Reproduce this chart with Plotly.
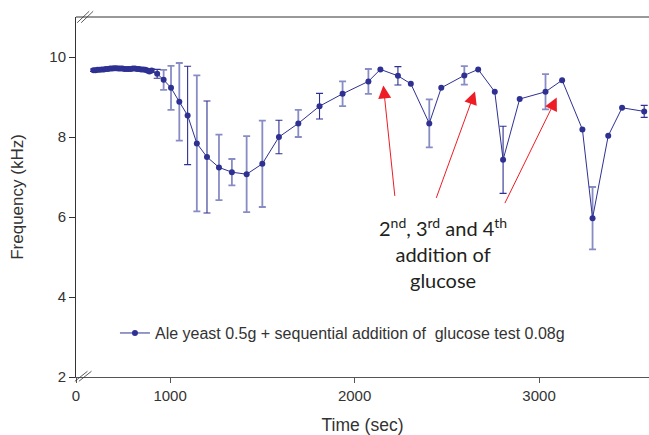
import plotly.graph_objects as go

# dense early readings (sec, kHz)
t_dense = [585, 596, 607, 618, 630, 641, 652, 663, 675, 686, 697, 708, 720, 731,
           742, 753, 765, 776, 787, 798, 810, 821, 832, 843, 855, 866, 877, 888]
f_dense = [9.67, 9.67, 9.68, 9.68, 9.69, 9.69, 9.70, 9.70, 9.71, 9.71, 9.72, 9.72, 9.71, 9.71,
           9.71, 9.70, 9.70, 9.70, 9.70, 9.71, 9.71, 9.70, 9.70, 9.69, 9.69, 9.68, 9.66, 9.64]
e_dense = [0.03, 0.03, 0.03, 0.03, 0.03, 0.03, 0.03, 0.03, 0.03, 0.03, 0.03, 0.03, 0.03, 0.03,
           0.03, 0.03, 0.03, 0.03, 0.03, 0.03, 0.03, 0.03, 0.03, 0.03, 0.03, 0.03, 0.03, 0.03]

# later readings
t_main = [900, 930, 965, 1005, 1050, 1095, 1145, 1200, 1265, 1335, 1415, 1500, 1590, 1695,
          1810, 1935, 2075, 2140, 2235, 2305, 2405, 2470, 2595, 2670, 2760, 2805, 2895,
          3035, 3125, 3235, 3290, 3375, 3450, 3570]
f_main = [9.66, 9.58, 9.43, 9.23, 8.88, 8.54, 7.84, 7.50, 7.24, 7.12, 7.07, 7.33, 8.00, 8.34,
          8.77, 9.08, 9.39, 9.69, 9.53, 9.33, 8.34, 9.23, 9.54, 9.69, 9.13, 7.43, 8.95,
          9.13, 9.42, 8.19, 5.97, 8.03, 8.73, 8.64]
e_main = [0.04, 0.11, 0.25, 0.55, 0.97, 1.23, 1.70, 1.40, 0.82, 0.33, 0.95, 1.08, 0.42, 0.34,
          0.32, 0.31, 0.31, None, 0.23, None, 0.60, None, 0.23, None, None, 0.84, None,
          0.44, None, None, 0.78, None, None, 0.15]
# which error bars are drawn in the darker shade
dark_bar = [1, 1, 0, 0, 0, 1, 0, 1, 0, 0, 0, 0, 1, 0,
            1, 0, 0, 0, 1, 0, 0, 0, 0, 0, 0, 1, 0,
            0, 0, 0, 0, 0, 0, 1]

x_ticks = [490, 1000, 2000, 3000]
x_ticktext = ["0", "1000", "2000", "3000"]
y_ticks = [2, 4, 6, 8, 10]

arrows = [  # (tail t, tail f, head t, head f)
    (2219, 6.49, 2156, 9.29),
    (2440, 6.44, 2653, 9.14),
    (2811, 6.31, 3096, 8.99),
]

LINE = "#2e3192"
DARK = "#2e3192"
LIGHT = "rgba(90,96,175,0.72)"

t_all = t_dense + t_main
f_all = f_dense + f_main
e_all = e_dense + e_main
d_all = [1] * len(t_dense) + dark_bar

fig = go.Figure()

for shade, col, th in [(0, LIGHT, 1.8), (1, DARK, 1.1)]:
    xs = [t for t, e, d in zip(t_all, e_all, d_all) if e is not None and d == shade]
    ys = [f for f, e, d in zip(f_all, e_all, d_all) if e is not None and d == shade]
    es = [e for e, d in zip(e_all, d_all) if e is not None and d == shade]
    fig.add_trace(go.Scatter(
        x=xs, y=ys, mode="markers", marker=dict(size=1, color=col, opacity=0),
        error_y=dict(type="data", array=es, visible=True, color=col, thickness=th, width=3.5),
        showlegend=False, hoverinfo="skip"))

fig.add_trace(go.Scatter(
    x=t_all, y=f_all, mode="lines+markers",
    line=dict(color=LINE, width=1),
    marker=dict(size=6, color=LINE),
    name="Ale yeast 0.5g + sequential addition of  glucose test 0.08g"))

for (tx, ty, hx, hy) in arrows:
    fig.add_annotation(x=hx, y=hy, ax=tx, ay=ty, xref="x", yref="y", axref="x", ayref="y",
                       text="", showarrow=True, arrowhead=2, arrowsize=2.6, arrowwidth=1,
                       arrowcolor="#ee1c24")

fig.add_annotation(x=2480, y=5.1, xref="x", yref="y", showarrow=False,
                   text="2<sup>nd</sup>, 3<sup>rd</sup> and 4<sup>th</sup><br>addition of<br>glucose",
                   font=dict(family="Lato", size=20, color="#231f20"), align="center")

# top frame line and axis-break marks
fig.add_shape(type="line", xref="paper", yref="paper", x0=0, x1=1, y0=1, y1=1,
              line=dict(color="#333", width=1))
for dx in (0.0, 0.007):
    fig.add_shape(type="line", xref="paper", yref="paper",
                  x0=0.002 + dx, y0=0.984, x1=0.023 + dx, y1=1.016,
                  line=dict(color="#333", width=0.8))
    fig.add_shape(type="line", xref="paper", yref="paper",
                  x0=-0.002 + dx, y0=-0.012, x1=0.02 + dx, y1=0.016,
                  line=dict(color="#333", width=0.8))

fig.update_layout(
    width=649, height=435,
    margin=dict(l=76, r=0, t=17, b=58),
    plot_bgcolor="white", paper_bgcolor="white",
    font=dict(family="Liberation Sans", size=15, color="#333"),
    legend=dict(x=0.068, y=0.122, xanchor="left", yanchor="middle",
                bgcolor="rgba(0,0,0,0)", font=dict(size=16, color="#333")),
    xaxis=dict(range=[490, 3596], tickvals=x_ticks, ticktext=x_ticktext,
               showline=True, linecolor="#555", linewidth=1, ticks="outside",
               ticklen=5, tickcolor="#555", showgrid=False, zeroline=False,
               tickfont=dict(size=15),
               title=dict(text="Time (sec)", font=dict(size=17.5, color="#333"), standoff=17),
               automargin=False),
    yaxis=dict(range=[2, 11], tickvals=y_ticks,
               showline=True, linecolor="#333", linewidth=1, ticks="outside",
               ticklen=6, tickcolor="#333", showgrid=False, zeroline=False,
               tickfont=dict(size=15),
               title=dict(text="Frequency (kHz)", font=dict(size=17, color="#333"), standoff=21),
               automargin=False),
)

fig.write_html("out.html")
